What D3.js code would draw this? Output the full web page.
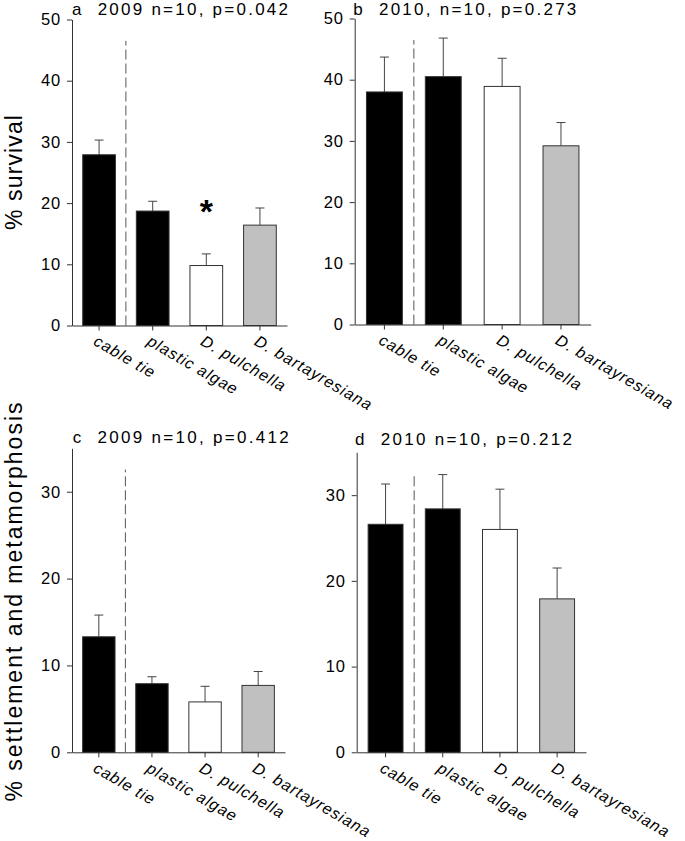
<!DOCTYPE html>
<html><head><meta charset="utf-8">
<script src="https://cdn.jsdelivr.net/npm/d3@7"></script>
<style>
body{margin:0;background:#fff;}
svg{display:block;font-family:"Liberation Sans",Arial,Helvetica,sans-serif;}
</style></head><body>
<svg id="chart" width="685" height="841"></svg>
<script>
// ---- data ----
const categories = ["cable tie", "plastic algae", "D. pulchella", "D. bartayresiana"];
const survival2009 = [27.9, 18.7, 9.8, 16.4];
const survival2009Err = [2.4, 1.6, 1.9, 2.8];
const survival2010 = [38.0, 40.5, 38.9, 29.2];
const survival2010Err = [5.7, 6.3, 4.6, 3.8];
const settle2009 = [13.3, 7.9, 5.8, 7.7];
const settle2009Err = [2.5, 0.8, 1.8, 1.6];
const settle2010 = [26.6, 28.4, 26.0, 17.9];
const settle2010Err = [4.7, 4.0, 4.7, 3.6];
const survivalTicks = [0, 10, 20, 30, 40, 50];
const settleTicks = [0, 10, 20, 30];
const panelTitles = ["a  2009 n=10, p=0.042", "b  2010, n=10, p=0.273", "c  2009 n=10, p=0.412", "d  2010 n=10, p=0.212"];
const yTitles = ["% survival", "% settlement and metamorphosis"];
const significantA = ["D. pulchella"];

// ---- drawing ----
const svg = d3.select("#chart");
const fills = ["#000000", "#000000", "#ffffff", "#c0c0c0"];

const panels = [
  {title: panelTitles[0], values: survival2009, errors: survival2009Err, ticks: survivalTicks, max: 50,
   left: 72, right: 287, top: 19.5, bottom: 325.5, tx: 72, ty: 15, tlen: 216, sig: significantA},
  {title: panelTitles[1], values: survival2010, errors: survival2010Err, ticks: survivalTicks, max: 50,
   left: 354.7, right: 590.7, top: 18.5, bottom: 324.5, tx: 353.3, ty: 15, tlen: 223, sig: []},
  {title: panelTitles[2], values: settle2009, errors: settle2009Err, ticks: settleTicks, max: 35,
   left: 72, right: 285, top: 448.3, bottom: 752.3, tx: 72.7, ty: 442.7, tlen: 216, sig: []},
  {title: panelTitles[3], values: settle2010, errors: settle2010Err, ticks: settleTicks, max: 35,
   left: 356.7, right: 586, top: 452.3, bottom: 752.3, tx: 355, ty: 445, tlen: 217, sig: []}
];

panels.forEach(p => {
  const x = d3.scaleBand().domain(categories).range([p.left, p.right]).paddingInner(0.39).paddingOuter(0.2);
  const y = d3.scaleLinear().domain([0, p.max]).range([p.bottom, p.top]);
  const g = svg.append("g");
  const rows = categories.map((c, i) => ({c, v: p.values[i], e: p.errors[i], fill: fills[i]}));

  // dashed divider between cable tie and the rest
  const xd = x(categories[1]) - x.step() * x.paddingInner() / 2;
  g.append("line")
    .attr("x1", xd).attr("x2", xd)
    .attr("y1", y(0)).attr("y2", y(p.max * 0.93))
    .attr("stroke", "#555").attr("stroke-width", 1)
    .attr("stroke-dasharray", "10,4");

  // error bars (upper only)
  const eb = g.selectAll(".eb").data(rows).enter().append("g");
  eb.append("line")
    .attr("x1", d => x(d.c) + x.bandwidth() / 2).attr("x2", d => x(d.c) + x.bandwidth() / 2)
    .attr("y1", d => y(d.v)).attr("y2", d => y(d.v + d.e))
    .attr("stroke", "#444").attr("stroke-width", 1);
  eb.append("line")
    .attr("x1", d => x(d.c) + x.bandwidth() / 2 - 4.5).attr("x2", d => x(d.c) + x.bandwidth() / 2 + 4.5)
    .attr("y1", d => y(d.v + d.e)).attr("y2", d => y(d.v + d.e))
    .attr("stroke", "#444").attr("stroke-width", 1);

  // bars
  g.selectAll(".bar").data(rows).enter().append("rect")
    .attr("x", d => x(d.c)).attr("width", x.bandwidth())
    .attr("y", d => y(d.v)).attr("height", d => y(0) - y(d.v))
    .attr("fill", d => d.fill).attr("stroke", "#333").attr("stroke-width", 1);

  // y axis
  const ya = g.append("g").attr("transform", `translate(${p.left},0)`)
    .call(d3.axisLeft(y).tickValues(p.ticks).tickSize(5).tickSizeOuter(0).tickPadding(6).tickFormat(d3.format("d")));
  ya.attr("color", "#333");
  ya.selectAll("text").attr("fill", "#000").attr("font-size", 16.5).attr("letter-spacing", 0.8)
    .attr("font-family", '"Liberation Sans",Arial,sans-serif');

  // x axis
  const xa = g.append("g").attr("transform", `translate(0,${y(0)})`)
    .call(d3.axisBottom(x).tickSize(5).tickSizeOuter(0).tickFormat(""));
  xa.attr("color", "#333");

  // category labels (rotated)
  g.selectAll(".cat").data(categories).enter().append("text")
    .attr("transform", c => `translate(${x(c) + x.bandwidth() / 2 - 1},${y(0) + 9}) rotate(30)`)
    .attr("dy", "0.71em")
    .attr("font-size", 16).attr("font-style", "italic").attr("letter-spacing", 1)
    .attr("fill", "#000")
    .text(c => c);

  // panel title
  g.append("text")
    .attr("x", p.tx).attr("y", p.ty)
    .attr("font-size", 17).attr("fill", "#000")
    .attr("textLength", p.tlen).attr("lengthAdjust", "spacing")
    .style("white-space", "pre")
    .text(p.title);

  // significance marks
  p.sig.forEach(c => {
    const i = categories.indexOf(c);
    g.append("text")
      .attr("x", x(c) + x.bandwidth() / 2).attr("y", y(p.values[i] + p.errors[i]) - 31)
      .attr("text-anchor", "middle").attr("font-size", 34).attr("font-weight", "bold")
      .attr("fill", "#000").text("*");
  });
});

// y-axis titles
svg.append("text")
  .attr("transform", "translate(21.5,172.5) rotate(-90)")
  .attr("text-anchor", "middle").attr("font-size", 23).attr("fill", "#000")
  .attr("textLength", 115).attr("lengthAdjust", "spacing")
  .text(yTitles[0]);
svg.append("text")
  .attr("transform", "translate(21.5,602) rotate(-90)")
  .attr("text-anchor", "middle").attr("font-size", 23).attr("fill", "#000")
  .attr("textLength", 399).attr("lengthAdjust", "spacing")
  .text(yTitles[1]);
</script>
</body></html>
